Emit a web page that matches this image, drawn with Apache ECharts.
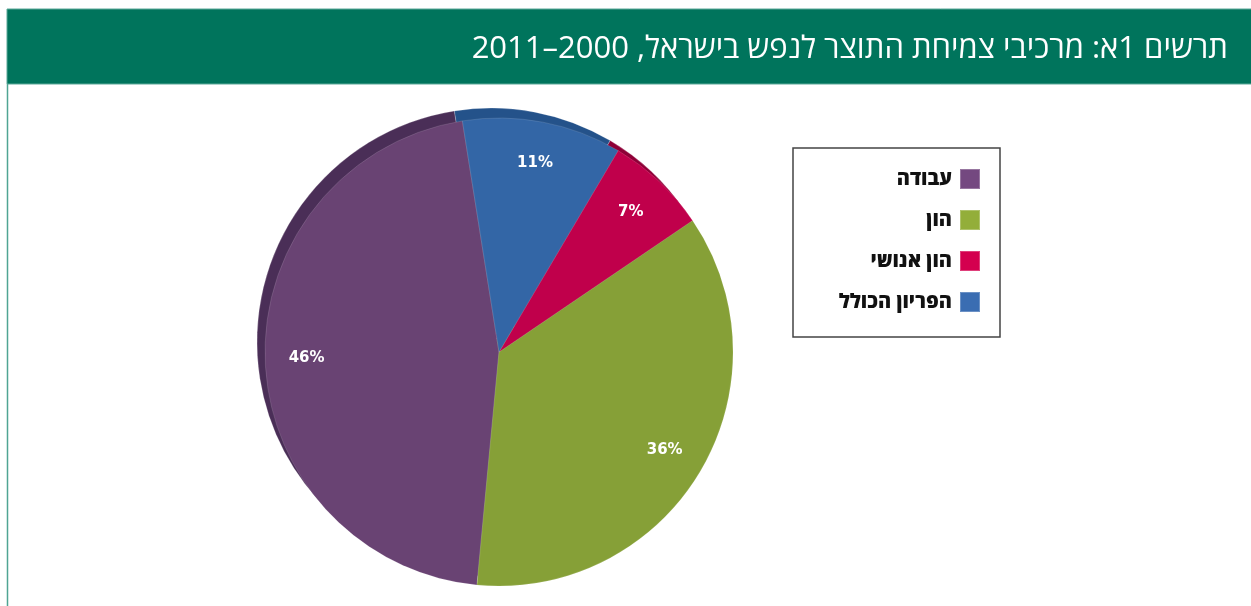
<!DOCTYPE html>
<html lang="he">
<head>
<meta charset="utf-8">
<title>מרכיבי צמיחת התוצר לנפש בישראל</title>
<script src="https://cdn.jsdelivr.net/npm/echarts@6/dist/echarts.min.js"></script>
<style>
  html, body { margin: 0; padding: 0; background: #fff; }
  #chart { width: 1251px; height: 606px; }
</style>
</head>
<body>
<div id="chart" dir="rtl"></div>
<script>
// data
const categories = ['עבודה', 'הון', 'הון אנושי', 'הפריון הכולל'];
const shares = [46, 36, 7, 11];
const titleText = 'תרשים 1א: מרכיבי צמיחת התוצר לנפש בישראל, 2000–2011';

// colours
const sliceColors = ['#694373', '#86a037', '#c0004b', '#3366a6'];
const rimColors = ['#4a2e57', '#63782a', '#8e0037', '#24528a'];
const legendColors = ['#744880', '#93ae3a', '#d4004f', '#3a6db2'];

const chartDom = document.getElementById('chart');
const myChart = echarts.init(chartDom);

const hebFont = '"Open Sans", "Liberation Sans", sans-serif';
const numFont = '"DejaVu Sans", "Open Sans", sans-serif';
const center = [499, 352];
const R = 234;

const option = {
    animation: false,
    textStyle: { fontFamily: hebFont },
    graphic: [
        {
            type: 'rect',
            shape: { x: 7, y: 9, width: 1250, height: 75 },
            style: { fill: '#00745c', stroke: '#5aa898', lineWidth: 1 },
            z: 10
        },
        {
            type: 'line',
            shape: { x1: 7.5, y1: 84, x2: 7.5, y2: 606 },
            style: { stroke: '#4fa593', lineWidth: 1.5 },
            z: 10
        },
        {
            type: 'text',
            x: 1228,
            y: 49,
            style: {
                text: titleText,
                fill: '#fff',
                font: '31px ' + hebFont,
                align: 'right',
                verticalAlign: 'middle'
            },
            z: 11
        },
        {
            // legend frame
            type: 'rect',
            shape: { x: 793, y: 148, width: 207, height: 189 },
            style: { fill: 'none', stroke: '#444', lineWidth: 1.5 },
            z: 5
        }
    ],
    legend: {
        orient: 'vertical',
        right: 265,
        top: 163,
        align: 'right',
        itemWidth: 20,
        itemHeight: 20,
        itemGap: 19,
        icon: 'rect',
        textStyle: {
            fontFamily: hebFont,
            fontSize: 20,
            fontWeight: 800,
            color: '#111',
            padding: [0, 3, 0, 0]
        },
        data: categories.map((name, i) => ({
            name,
            itemStyle: { color: legendColors[i] }
        }))
    },
    series: [
        {
            // the darker rim behind the pie
            name: 'rim',
            type: 'pie',
            center: [center[0] - 8, center[1] - 10],
            radius: [0, R],
            startAngle: 99,
            clockwise: false,
            silent: true,
            z: 1,
            label: { show: false },
            labelLine: { show: false },
            itemStyle: { borderColor: 'rgba(255,255,255,0.35)', borderWidth: 0.6 },
            data: categories.map((name, i) => ({
                name: name + ' ',
                value: shares[i],
                itemStyle: { color: rimColors[i] }
            }))
        },
        {
            name: 'main',
            type: 'pie',
            center: center,
            radius: [0, R],
            startAngle: 99,
            clockwise: false,
            z: 2,
            label: { show: false },
            labelLine: { show: false },
            itemStyle: { borderColor: 'rgba(255,255,255,0.25)', borderWidth: 0.5 },
            data: categories.map((name, i) => ({
                name,
                value: shares[i],
                itemStyle: { color: sliceColors[i] }
            }))
        },
        {
            // label carrier, puts the percentages at ~0.82 of the radius
            name: 'labels',
            type: 'pie',
            center: center,
            radius: [145, R],
            startAngle: 99,
            clockwise: false,
            silent: true,
            z: 3,
            itemStyle: { color: 'rgba(0,0,0,0)' },
            label: {
                show: true,
                position: 'inside',
                formatter: '{c}%',
                color: '#fff',
                fontFamily: numFont,
                fontSize: 15,
                fontWeight: 'bold'
            },
            labelLine: { show: false },
            data: categories.map((name, i) => ({
                name: name + '  ',
                value: shares[i]
            }))
        }
    ]
};

option && myChart.setOption(option);
</script>
</body>
</html>
